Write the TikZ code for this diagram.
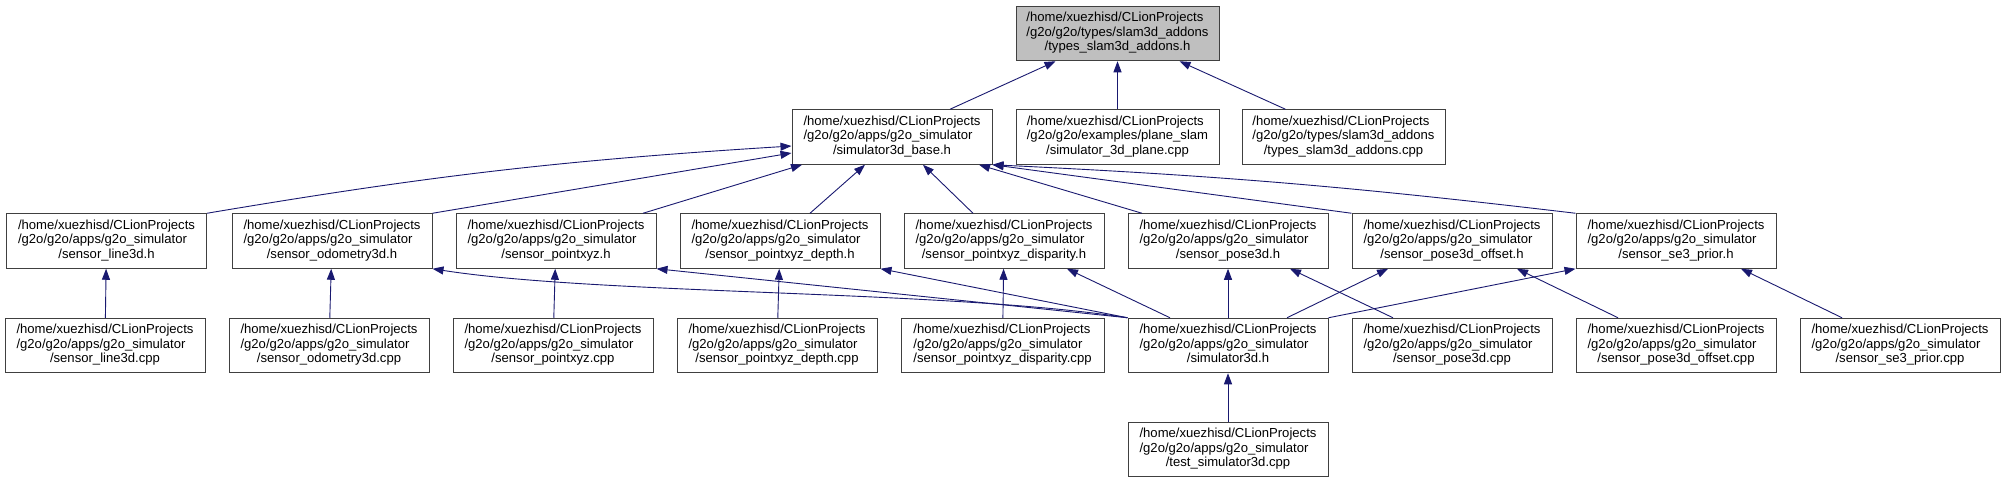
\documentclass[tikz,border=0pt]{standalone}
\usepackage{fontspec}
\setmainfont{Liberation Sans}
\usepackage{xcolor}
\usepackage{tikz}
\usetikzlibrary{arrows.meta,positioning}

\definecolor{edgeblue}{HTML}{191970}
\definecolor{boxgray}{HTML}{404040}
\definecolor{curgray}{HTML}{BFBFBF}

% three-line file label: first two lines left, last one centred
\newcommand{\incfile}[2]{\begin{tabular}{@{}l@{}}/home/xuezhisd/CLionProjects\\#1\\\multicolumn{1}{@{}c@{}}{#2}\end{tabular}}

\begin{document}
\begin{tikzpicture}[x=1pt,y=-1pt,
  file/.style={draw=boxgray,line width=1pt,fill=white,minimum width=200pt,minimum height=54.5pt,inner sep=0pt,font=\fontsize{13.1}{14.5}\selectfont},
  curfile/.style={file,fill=curgray},
  inc/.style={edgeblue,line width=0.9pt,-{Triangle[length=11pt,width=8pt]}}]
  \fill[white] (0,0) rectangle (2005,483);
  \useasboundingbox (0,0) rectangle (2005,483);

  % the header itself
  \node[curfile,minimum width=203pt] (top) at (1117.5,33.5) {\incfile{/g2o/g2o/types/slam3d\_addons}{/types\_slam3d\_addons.h}};

  % direct includers
  \node[file] (base) at (892,137) {\incfile{/g2o/g2o/apps/g2o\_simulator}{/simulator3d\_base.h}};
  \node[file,minimum width=203pt] (plane) at (1117.5,137) {\incfile{/g2o/g2o/examples/plane\_slam}{/simulator\_3d\_plane.cpp}};
  \node[file,minimum width=203pt] (types) at (1343.5,137) {\incfile{/g2o/g2o/types/slam3d\_addons}{/types\_slam3d\_addons.cpp}};

  % sensor headers
  \node[file] (l3h) at (106.5,241) {\incfile{/g2o/g2o/apps/g2o\_simulator}{/sensor\_line3d.h}};
  \node[file] (odoh) at (332,241) {\incfile{/g2o/g2o/apps/g2o\_simulator}{/sensor\_odometry3d.h}};
  \node[file] (pxyzh) at (556,241) {\incfile{/g2o/g2o/apps/g2o\_simulator}{/sensor\_pointxyz.h}};
  \node[file] (deph) at (780,241) {\incfile{/g2o/g2o/apps/g2o\_simulator}{/sensor\_pointxyz\_depth.h}};
  \node[file] (disph) at (1004,241) {\incfile{/g2o/g2o/apps/g2o\_simulator}{/sensor\_pointxyz\_disparity.h}};
  \node[file] (poseh) at (1228,241) {\incfile{/g2o/g2o/apps/g2o\_simulator}{/sensor\_pose3d.h}};
  \node[file] (offh) at (1452,241) {\incfile{/g2o/g2o/apps/g2o\_simulator}{/sensor\_pose3d\_offset.h}};
  \node[file] (se3h) at (1676,241) {\incfile{/g2o/g2o/apps/g2o\_simulator}{/sensor\_se3\_prior.h}};

  % sources and simulator3d.h
  \node[file] (l3cpp) at (105,345.5) {\incfile{/g2o/g2o/apps/g2o\_simulator}{/sensor\_line3d.cpp}};
  \node[file] (odocpp) at (329,345.5) {\incfile{/g2o/g2o/apps/g2o\_simulator}{/sensor\_odometry3d.cpp}};
  \node[file] (pxyzcpp) at (553,345.5) {\incfile{/g2o/g2o/apps/g2o\_simulator}{/sensor\_pointxyz.cpp}};
  \node[file] (depcpp) at (777,345.5) {\incfile{/g2o/g2o/apps/g2o\_simulator}{/sensor\_pointxyz\_depth.cpp}};
  \node[file,minimum width=203pt] (dispcpp) at (1002.5,345.5) {\incfile{/g2o/g2o/apps/g2o\_simulator}{/sensor\_pointxyz\_disparity.cpp}};
  \node[file] (sim3d) at (1228,345.5) {\incfile{/g2o/g2o/apps/g2o\_simulator}{/simulator3d.h}};
  \node[file] (posecpp) at (1452,345.5) {\incfile{/g2o/g2o/apps/g2o\_simulator}{/sensor\_pose3d.cpp}};
  \node[file] (offcpp) at (1676,345.5) {\incfile{/g2o/g2o/apps/g2o\_simulator}{/sensor\_pose3d\_offset.cpp}};
  \node[file] (se3cpp) at (1900,345.5) {\incfile{/g2o/g2o/apps/g2o\_simulator}{/sensor\_se3\_prior.cpp}};

  \node[file] (test) at (1228,449.5) {\incfile{/g2o/g2o/apps/g2o\_simulator}{/test\_simulator3d.cpp}};

  % includes of the header
  \draw[inc] ([xshift=58pt]base.north) -- ([xshift=-62pt]top.south);
  \draw[inc] (plane) -- (top);
  \draw[inc] ([xshift=-58pt]types.north) -- ([xshift=62pt]top.south);

  % sensor headers -> simulator3d_base.h
  \draw[inc] (l3h.north east) to[bend left=3] ([yshift=-9pt]base.west);
  \draw[inc] (odoh.north east) -- ([yshift=-16pt]base.west);
  \draw[inc] ([xshift=87pt]pxyzh.north) -- ([xshift=-90pt]base.south);
  \draw[inc] ([xshift=30pt]deph.north) -- ([xshift=-27pt]base.south);
  \draw[inc] ([xshift=-31pt]disph.north) -- ([xshift=31pt]base.south);
  \draw[inc] ([xshift=-86pt]poseh.north) -- ([xshift=87pt]base.south);
  \draw[inc] (offh.north west) -- (base.south east);
  \draw[inc] (se3h.north west) to[bend right=2] (base.south east);

  % simulator3d.h -> sensor headers
  \draw[inc] (sim3d.north west) .. controls (950,290) and (600,295) .. (odoh.south east);
  \draw[inc] (sim3d.north west) -- (pxyzh.south east);
  \draw[inc] (sim3d.north west) -- (deph.south east);
  \draw[inc] ([xshift=-58pt]sim3d.north) -- ([xshift=63pt]disph.south);
  \draw[inc] (sim3d) -- (poseh);
  \draw[inc] ([xshift=59pt]sim3d.north) -- ([xshift=-64pt]offh.south);
  \draw[inc] (sim3d.north east) -- (se3h.south west);

  % sources
  \draw[inc] (l3cpp) -- (l3h);
  \draw[inc] (odocpp) -- (odoh);
  \draw[inc] (pxyzcpp) -- (pxyzh);
  \draw[inc] (depcpp) -- (deph);
  \draw[inc] (dispcpp) -- (disph);
  \draw[inc] ([xshift=-59pt]posecpp.north) -- ([xshift=62pt]poseh.south);
  \draw[inc] ([xshift=-58pt]offcpp.north) -- ([xshift=65pt]offh.south);
  \draw[inc] ([xshift=-58pt]se3cpp.north) -- ([xshift=65pt]se3h.south);
  \draw[inc] (test) -- (sim3d);
\end{tikzpicture}
\end{document}
